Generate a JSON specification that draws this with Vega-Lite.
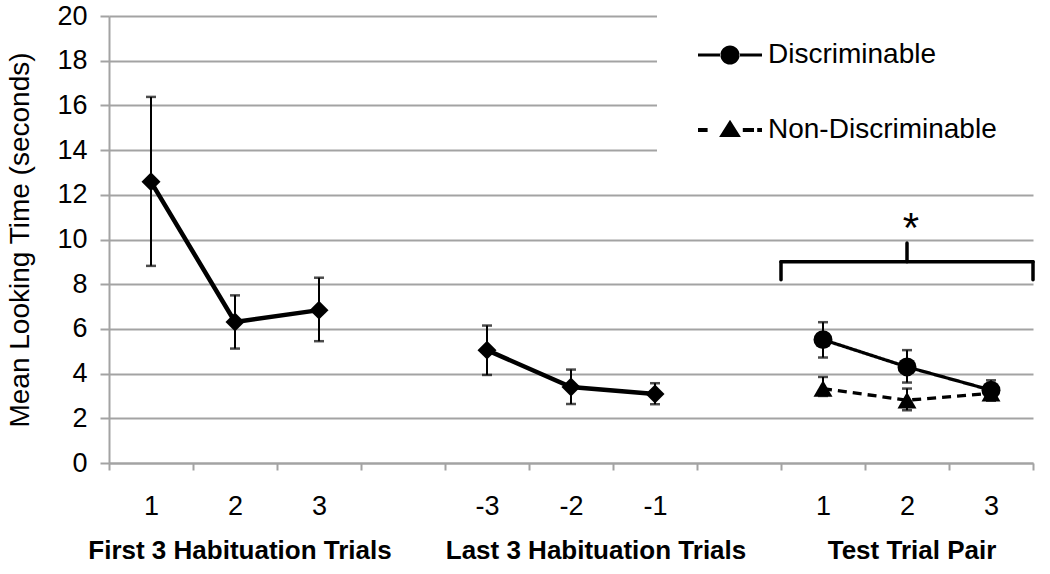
{
  "$schema": "https://vega.github.io/schema/vega-lite/v6.json",
  "width": 924,
  "height": 447,
  "autosize": {"type": "none"},
  "padding": {"left": 109, "top": 16, "right": 17, "bottom": 111},
  "background": "white",
  "config": {
    "view": {"stroke": null},
    "font": "Liberation Sans",
    "axisY": {
      "gridColor": "#a3a3a3", "gridWidth": 2, "gridOpacity": 1,
      "domainColor": "#a3a3a3", "domainWidth": 2,
      "tickColor": "#a3a3a3", "tickWidth": 2, "tickSize": 9,
      "labelFontSize": 27, "labelColor": "black", "labelPadding": 13,
      "titleFontSize": 28, "titleFontWeight": "normal", "titleColor": "black", "titlePadding": 22,
      "tickCount": 10
    },
    "axisX": {
      "grid": false,
      "domainColor": "#a3a3a3", "domainWidth": 2,
      "tickColor": "#a3a3a3", "tickWidth": 2, "tickSize": 7,
      "labelFontSize": 27, "labelColor": "black", "labelPadding": 23, "labelAngle": 0
    }
  },
  "datasets": {
    "pts": [
      {"cat": "F1", "series": "Habituation", "seg": "first", "y": 12.58, "lo": 8.82, "hi": 16.38},
      {"cat": "F2", "series": "Habituation", "seg": "first", "y": 6.31, "lo": 5.12, "hi": 7.5},
      {"cat": "F3", "series": "Habituation", "seg": "first", "y": 6.84, "lo": 5.45, "hi": 8.29},
      {"cat": "L-3", "series": "Habituation", "seg": "last", "y": 5.05, "lo": 3.94, "hi": 6.15},
      {"cat": "L-2", "series": "Habituation", "seg": "last", "y": 3.4, "lo": 2.64, "hi": 4.18},
      {"cat": "L-1", "series": "Habituation", "seg": "last", "y": 3.09, "lo": 2.63, "hi": 3.57},
      {"cat": "T1", "series": "Discriminable", "seg": "disc", "y": 5.52, "lo": 4.72, "hi": 6.3},
      {"cat": "T2", "series": "Discriminable", "seg": "disc", "y": 4.3, "lo": 3.6, "hi": 5.05},
      {"cat": "T3", "series": "Discriminable", "seg": "disc", "y": 3.26, "lo": 2.8, "hi": 3.7},
      {"cat": "T1", "series": "Non-Discriminable", "seg": "nondisc", "y": 3.33, "lo": 3.0, "hi": 3.85},
      {"cat": "T2", "series": "Non-Discriminable", "seg": "nondisc", "y": 2.81, "lo": 2.36, "hi": 3.33},
      {"cat": "T3", "series": "Non-Discriminable", "seg": "nondisc", "y": 3.12, "lo": 2.8, "hi": 3.45}
    ],
    "brace": [
      {"from": "T1", "to": "T3", "mid": "T2", "end": 8.2, "base": 9.0, "peak": 9.84}
    ],
    "note": [
      {"cat": "T2", "y": 9.9, "text": "*"}
    ]
  },
  "layer": [
    {
      "data": {"name": "pts"},
      "mark": {"type": "errorbar", "color": "black", "ticks": {"size": 10, "thickness": 2.5}, "rule": {"strokeWidth": 2}},
      "encoding": {
        "x": {
          "field": "cat", "type": "nominal",
          "scale": {"type": "band", "domain": ["F1","F2","F3","g1","L-3","L-2","L-1","g2","T1","T2","T3"], "paddingInner": 0, "paddingOuter": 0},
          "axis": {"title": null, "tickBand": "extent", "labelExpr": "indexof(['g1', 'g2'], datum.value) >= 0 ? '' : substring(datum.label, 1)"}
        },
        "y": {"field": "lo", "type": "quantitative", "scale": {"domain": [0, 20], "nice": false}, "title": "Mean Looking Time (seconds)"},
        "y2": {"field": "hi"}
      }
    },
    {
      "data": {"name": "pts"},
      "transform": [{"filter": "datum.series === 'Habituation'"}],
      "mark": {"type": "line", "color": "black", "strokeWidth": 4.5},
      "encoding": {
        "x": {"field": "cat", "type": "nominal", "scale": {"type": "band", "domain": ["F1","F2","F3","g1","L-3","L-2","L-1","g2","T1","T2","T3"], "paddingInner": 0, "paddingOuter": 0}, "axis": null},
        "y": {"field": "y", "type": "quantitative", "title": "Mean Looking Time (seconds)"},
        "detail": {"field": "seg"}
      }
    },
    {
      "data": {"name": "pts"},
      "transform": [{"filter": "datum.series !== 'Habituation'"}],
      "mark": {"type": "line", "color": "black", "strokeWidth": 3.3},
      "encoding": {
        "x": {"field": "cat", "type": "nominal", "scale": {"type": "band", "domain": ["F1","F2","F3","g1","L-3","L-2","L-1","g2","T1","T2","T3"], "paddingInner": 0, "paddingOuter": 0}, "axis": null},
        "y": {"field": "y", "type": "quantitative", "title": "Mean Looking Time (seconds)"},
        "strokeDash": {"field": "series", "type": "nominal", "scale": {"domain": ["Discriminable", "Non-Discriminable"], "range": [[1, 0], [9, 6]]}, "legend": null}
      }
    },
    {
      "data": {"name": "pts"},
      "mark": {"type": "point", "filled": true, "color": "black", "opacity": 1, "size": 360},
      "encoding": {
        "x": {"field": "cat", "type": "nominal", "scale": {"type": "band", "domain": ["F1","F2","F3","g1","L-3","L-2","L-1","g2","T1","T2","T3"], "paddingInner": 0, "paddingOuter": 0}, "axis": null},
        "y": {"field": "y", "type": "quantitative", "title": "Mean Looking Time (seconds)"},
        "shape": {
          "field": "series", "type": "nominal",
          "scale": {"domain": ["Habituation", "Discriminable", "Non-Discriminable"], "range": ["diamond", "circle", "triangle-up"]},
          "legend": null
        }
      }
    },
    {
      "data": {"name": "pts"},
      "transform": [{"filter": "datum.series !== 'Habituation'"}],
      "mark": {"type": "point", "filled": true, "color": "black", "opacity": 0, "size": 4096},
      "encoding": {
        "x": {"field": "cat", "type": "nominal", "scale": {"type": "band", "domain": ["F1","F2","F3","g1","L-3","L-2","L-1","g2","T1","T2","T3"], "paddingInner": 0, "paddingOuter": 0}, "axis": null},
        "y": {"field": "y", "type": "quantitative", "title": "Mean Looking Time (seconds)"},
        "shape": {
          "field": "series", "type": "nominal",
          "scale": {
            "domain": ["Discriminable", "Non-Discriminable"],
            "range": [
              "M-1,-0.05H-0.28V0.05H-1Z M0.28,-0.05H1V0.05H0.28Z M-0.3,0A0.3,0.3 0 1,0 0.3,0A0.3,0.3 0 1,0 -0.3,0Z",
              "M-1,-0.06H-0.7V0.06H-1Z M0.4,-0.06H0.75V0.06H0.4Z M0.85,-0.06H1V0.06H0.85Z M-0.34,0.22L0,-0.32L0.34,0.22Z"
            ]
          },
          "legend": {
            "title": null,
            "orient": "none",
            "legendX": 548,
            "legendY": -30,
            "fillColor": "white",
            "padding": 37,
            "symbolOffset": 4,
            "labelFontSize": 28,
            "labelColor": "black",
            "labelFont": "Liberation Sans",
            "labelLimit": 400,
            "symbolSize": 4096,
            "symbolStrokeWidth": 0,
            "symbolFillColor": "black",
            "rowPadding": 29,
            "labelOffset": 6
          }
        }
      }
    },
    {
      "data": {"name": "brace"},
      "mark": {"type": "rule", "color": "black", "strokeWidth": 3.5, "strokeCap": "round"},
      "encoding": {
        "x": {"field": "from", "type": "nominal", "bandPosition": 0, "scale": {"type": "band", "domain": ["F1","F2","F3","g1","L-3","L-2","L-1","g2","T1","T2","T3"], "paddingInner": 0, "paddingOuter": 0}, "axis": null},
        "x2": {"field": "to", "bandPosition": 1},
        "y": {"field": "base", "type": "quantitative", "title": "Mean Looking Time (seconds)"}
      }
    },
    {
      "data": {"name": "brace"},
      "mark": {"type": "rule", "color": "black", "strokeWidth": 3.5, "strokeCap": "round"},
      "encoding": {
        "x": {"field": "from", "type": "nominal", "bandPosition": 0, "scale": {"type": "band", "domain": ["F1","F2","F3","g1","L-3","L-2","L-1","g2","T1","T2","T3"], "paddingInner": 0, "paddingOuter": 0}, "axis": null},
        "y": {"field": "end", "type": "quantitative", "title": "Mean Looking Time (seconds)"},
        "y2": {"field": "base"}
      }
    },
    {
      "data": {"name": "brace"},
      "mark": {"type": "rule", "color": "black", "strokeWidth": 3.5, "strokeCap": "round"},
      "encoding": {
        "x": {"field": "to", "type": "nominal", "bandPosition": 1, "scale": {"type": "band", "domain": ["F1","F2","F3","g1","L-3","L-2","L-1","g2","T1","T2","T3"], "paddingInner": 0, "paddingOuter": 0}, "axis": null},
        "y": {"field": "end", "type": "quantitative", "title": "Mean Looking Time (seconds)"},
        "y2": {"field": "base"}
      }
    },
    {
      "data": {"name": "brace"},
      "mark": {"type": "rule", "color": "black", "strokeWidth": 3.5, "strokeCap": "round"},
      "encoding": {
        "x": {"field": "mid", "type": "nominal", "scale": {"type": "band", "domain": ["F1","F2","F3","g1","L-3","L-2","L-1","g2","T1","T2","T3"], "paddingInner": 0, "paddingOuter": 0}, "axis": null},
        "y": {"field": "base", "type": "quantitative", "title": "Mean Looking Time (seconds)"},
        "y2": {"field": "peak"}
      }
    },
    {
      "data": {"name": "note"},
      "mark": {"type": "text", "color": "black", "fontSize": 42, "baseline": "alphabetic", "align": "center", "dx": 4},
      "encoding": {
        "x": {
          "field": "cat", "type": "nominal",
          "scale": {"type": "band", "domain": ["F1","F2","F3","g1","L-3","L-2","L-1","g2","T1","T2","T3"], "paddingInner": 0, "paddingOuter": 0},
          "axis": {
            "orient": "bottom", "title": null, "domain": false, "ticks": false,
            "labelFontSize": 26, "labelFontWeight": "bold", "labelPadding": 74,
            "labelOverlap": false, "labelBound": false, "labelLimit": 500,
            "labelOffset": {"condition": {"test": "datum.value === 'L-2'", "value": 25}, "value": 5},
            "labelExpr": "datum.value === 'F2' ? 'First 3 Habituation Trials' : datum.value === 'L-2' ? 'Last 3 Habituation Trials' : datum.value === 'T2' ? 'Test Trial Pair' : ''"
          }
        },
        "y": {"field": "y", "type": "quantitative", "title": "Mean Looking Time (seconds)"},
        "text": {"field": "text"}
      }
    }
  ],
  "resolve": {"axis": {"x": "independent"}, "scale": {"shape": "independent"}}
}
